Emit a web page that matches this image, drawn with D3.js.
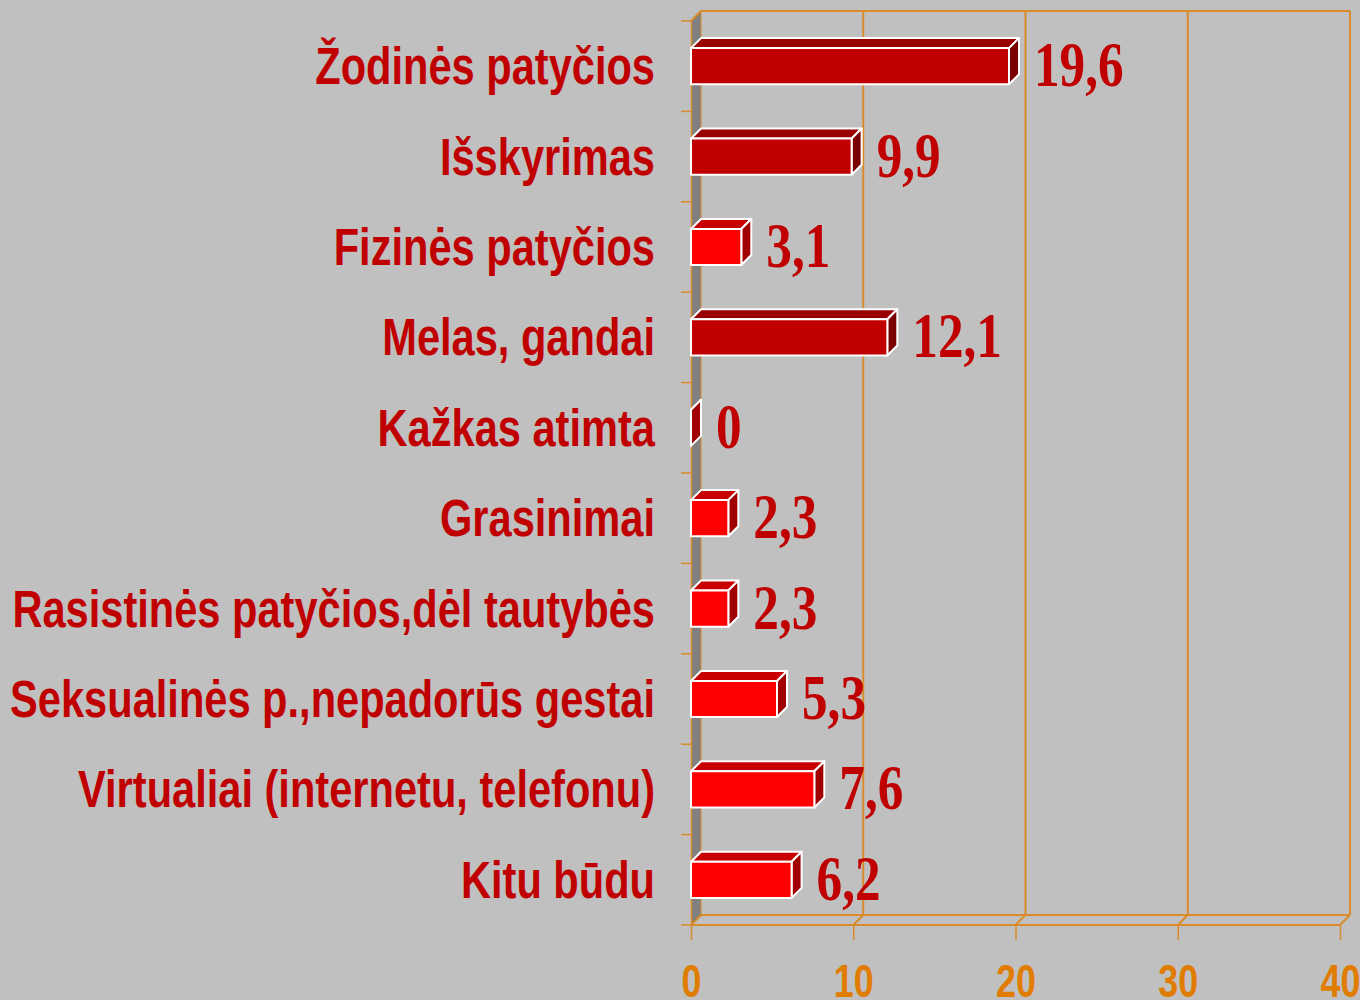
<!DOCTYPE html>
<html>
<head>
<meta charset="utf-8">
<script src="https://d3js.org/d3.v7.min.js"></script>
<style>
  html, body { margin: 0; padding: 0; background: #c0c0c0; }
  svg { display: block; }
</style>
</head>
<body>
<svg width="1360" height="1000"></svg>
<script>
// data
var categories = [
    "Žodinės patyčios",
    "Išskyrimas",
    "Fizinės patyčios",
    "Melas, gandai",
    "Kažkas atimta",
    "Grasinimai",
    "Rasistinės patyčios,dėl tautybės",
    "Seksualinės p.,nepadorūs gestai",
    "Virtualiai (internetu, telefonu)",
    "Kitu būdu"
];
var values = [19.6, 9.9, 3.1, 12.1, 0, 2.3, 2.3, 5.3, 7.6, 6.2];
var valueLabels = ["19,6", "9,9", "3,1", "12,1", "0", "2,3", "2,3", "5,3", "7,6", "6,2"];
var xTicks = [0, 10, 20, 30, 40];

var data = categories.map(function(c, i) {
    return { cat: c, value: values[i], label: valueLabels[i] };
});

var svg = d3.select("svg");
var depth = 10; // 3d offset
var orange = "#d98a2a";
var textRed = "#c00000";
var narrow = 0.8; // no narrow font installed, squeeze horizontally

var x = d3.scaleLinear().domain([0, 40]).range([691, 1340]);
var y = d3.scaleBand().domain(categories).range([21, 925]).paddingInner(0.6).paddingOuter(0.3);
var yTop = 21, yFloor = 925;

// left wall
svg.append("polygon")
    .attr("points", [
        [x(0), yTop + 1], [x(0) + depth, yTop - depth + 1],
        [x(0) + depth, yFloor - depth], [x(0), yFloor]
    ].join(" "))
    .style("fill", "#808080");

// back wall gridlines
var g = svg.append("g").style("stroke", orange).style("stroke-width", 2).style("fill", "none");
xTicks.forEach(function(t) {
    if (t == 0) return;
    g.append("line")
        .attr("x1", x(t) + depth).attr("x2", x(t) + depth)
        .attr("y1", yTop - depth).attr("y2", yFloor - depth);
    // floor diagonal
    g.append("line")
        .attr("x1", x(t)).attr("x2", x(t) + depth)
        .attr("y1", yFloor).attr("y2", yFloor - depth);
});
g.append("line")
    .attr("x1", x(0) + depth).attr("x2", x(40) + depth)
    .attr("y1", yTop - depth).attr("y2", yTop - depth);
g.append("line")
    .attr("x1", x(0) + depth).attr("x2", x(0) + depth)
    .attr("y1", yTop - depth).attr("y2", yFloor - depth)
    .style("stroke-width", 1);
g.append("line")
    .attr("x1", x(0)).attr("x2", x(0) + depth)
    .attr("y1", yTop).attr("y2", yTop - depth);
// floor edges
g.append("line")
    .attr("x1", x(0) + depth).attr("x2", x(40) + depth)
    .attr("y1", yFloor - depth).attr("y2", yFloor - depth);
g.append("line")
    .attr("x1", x(0)).attr("x2", x(40))
    .attr("y1", yFloor).attr("y2", yFloor);
g.append("line")
    .attr("x1", x(0)).attr("x2", x(0) + depth)
    .attr("y1", yFloor).attr("y2", yFloor - depth);

// y axis line and ticks
var yAxis = svg.append("g")
    .attr("transform", "translate(" + x(0) + ",0)")
    .call(d3.axisLeft(y).tickSize(0).tickFormat(""));
yAxis.select(".domain").style("stroke", orange).style("stroke-width", 1.5);
var bounds = d3.range(categories.length + 1).map(function(i) { return yTop + i * y.step(); });
yAxis.selectAll(".bnd")
    .data(bounds)
    .enter().append("line")
    .attr("x1", -10).attr("x2", 0)
    .attr("y1", function(d) { return d; }).attr("y2", function(d) { return d; })
    .style("stroke", orange).style("stroke-width", 1.5);

// x axis
var xAxis = svg.append("g")
    .attr("transform", "translate(0," + yFloor + ")")
    .call(d3.axisBottom(x).tickValues(xTicks).tickSize(15).tickFormat(""));
xAxis.select(".domain").remove();
xAxis.selectAll("line").style("stroke", orange).style("stroke-width", 1.5);
xAxis.selectAll(".tick").append("text")
    .attr("transform", "translate(0,72) scale(0.78,1)")
    .attr("text-anchor", "middle")
    .style("font", "bold 46px 'Liberation Sans', Arial, sans-serif")
    .style("fill", "#e07c00")
    .text(function(d) { return d; });

// bars
function colors(d) {
    return d.value >= 9
        ? { front: "#c00000", top: "#990000", side: "#7a0000" }
        : { front: "#ff0000", top: "#c80000", side: "#a00000" };
}

var bars = svg.selectAll(".bar")
    .data(data)
    .enter().append("g")
    .attr("class", "bar")
    .style("stroke", "#ffffff")
    .style("stroke-width", 2)
    .style("stroke-linejoin", "round");

bars.append("polygon") // top face
    .attr("points", function(d) {
        var x0 = x(0), x1 = x(d.value), t = y(d.cat);
        return [[x0, t], [x1, t], [x1 + depth, t - depth], [x0 + depth, t - depth]].join(" ");
    })
    .style("fill", function(d) { return colors(d).top; });

bars.append("polygon") // side face
    .attr("points", function(d) {
        var x1 = x(d.value), t = y(d.cat), b = t + y.bandwidth();
        return [[x1, t], [x1 + depth, t - depth], [x1 + depth, b - depth], [x1, b]].join(" ");
    })
    .style("fill", function(d) { return colors(d).side; });

bars.filter(function(d) { return d.value > 0; })
    .append("rect") // front face
    .attr("x", x(0))
    .attr("y", function(d) { return y(d.cat); })
    .attr("width", function(d) { return x(d.value) - x(0); })
    .attr("height", y.bandwidth())
    .style("fill", function(d) { return colors(d).front; });

// value labels
svg.selectAll(".val")
    .data(data)
    .enter().append("text")
    .attr("class", "val")
    .attr("transform", function(d) {
        return "translate(" + (x(d.value) + depth + 15) + "," + (y(d.cat) + y.bandwidth() / 2 + 20) + ") scale(0.8,1)";
    })
    .style("font", "bold 64px 'Liberation Serif', 'Times New Roman', serif")
    .style("fill", textRed)
    .text(function(d) { return d.label; });

// category labels
svg.selectAll(".cat")
    .data(data)
    .enter().append("text")
    .attr("class", "cat")
    .attr("transform", function(d) {
        return "translate(655," + (y(d.cat) + y.bandwidth() / 2 + 18) + ") scale(" + narrow + ",1)";
    })
    .attr("text-anchor", "end")
    .style("font", "bold 52px 'Liberation Sans', Arial, sans-serif")
    .style("fill", textRed)
    .text(function(d) { return d.cat; });
</script>
</body>
</html>
